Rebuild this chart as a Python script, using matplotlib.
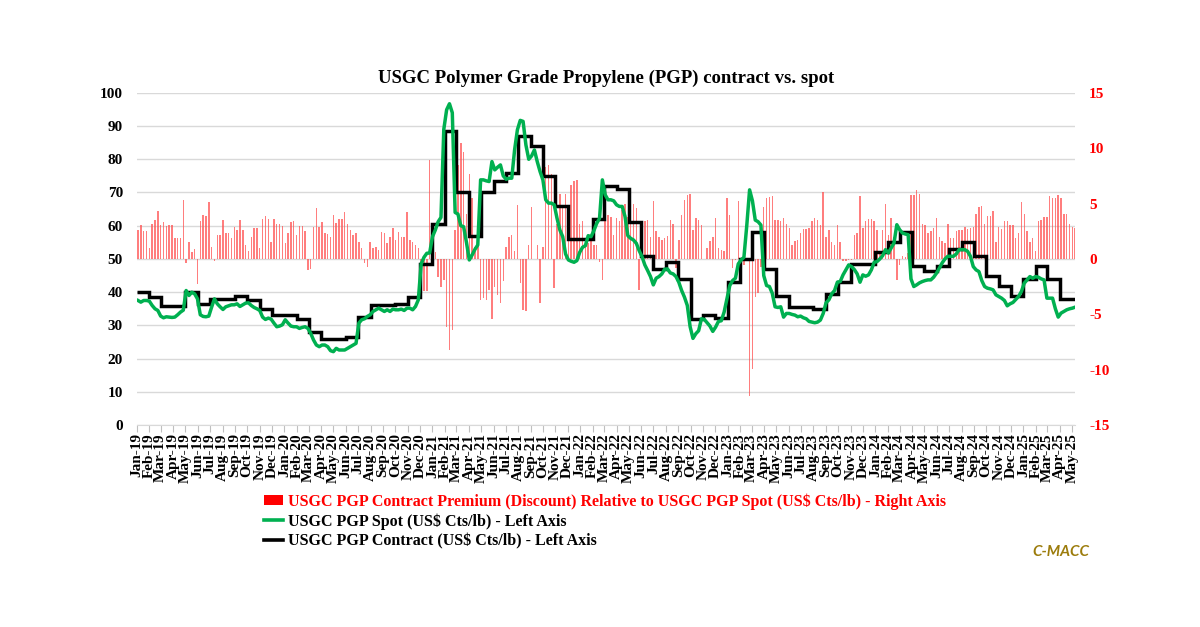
import pandas as pd
import matplotlib
matplotlib.use("Agg")
import matplotlib.pyplot as plt
import matplotlib.dates as mdates
from matplotlib.patches import Patch
from matplotlib.lines import Line2D

plt.rcParams['font.family'] = ['Liberation Serif', 'DejaVu Serif']
plt.rcParams['font.weight'] = 'bold'
plt.rcParams['axes.unicode_minus'] = False

TITLE = "USGC Polymer Grade Propylene (PGP) contract vs. spot"
LABEL_PREMIUM = "USGC PGP Contract Premium (Discount) Relative to USGC PGP Spot (US$ Cts/lb) - Right Axis"
LABEL_SPOT = "USGC PGP Spot (US$ Cts/lb) - Left Axis"
LABEL_CONTRACT = "USGC PGP Contract (US$ Cts/lb) - Left Axis"

# monthly contract price Jan-19 .. May-25 (US$ Cts/lb)
contract = [
    40, 38.5, 35.7, 35.7, 40, 36.5, 38, 38, 39, 37.5, 35, 33,          # 2019
    33, 32, 28, 26, 26, 26.5, 32.5, 36, 36, 36.5, 38.5, 48.5,          # 2020
    60.5, 88.5, 70, 57, 70, 73.5, 76, 87, 84, 75, 66, 56,              # 2021
    56, 62, 72, 71, 61, 51, 47, 49, 44, 32, 33, 32.3,                  # 2022
    43, 50, 58, 47, 39, 35.5, 35.5, 35, 39.5, 43, 48.5, 48.5,          # 2023
    52, 55, 58, 48, 46.5, 48, 53, 55, 51, 45, 42, 39,                  # 2024
    44, 48, 44, 38, 38,                                                # 2025
]

# weekly spot price (Fridays), one row per month
spot = [
    37.5, 37.0, 37.5, 37.5,
    37.3, 36.0, 35.0, 34.5,
    32.8, 32.3, 32.6, 32.5, 32.4,
    32.5, 33.2, 34.0, 34.6,
    40.5, 39.0, 40.0, 39.5, 38.0,
    33.2, 32.7, 32.6, 32.8,
    35.5, 38.0, 36.5, 35.6,
    34.8, 35.6, 35.9, 36.2, 36.2,
    36.5, 35.7, 36.2, 36.7,
    36.8, 36.0, 35.4, 35.0,
    34.5, 32.5, 31.8, 32.2, 31.9,
    30.7, 29.6, 29.8, 30.2,
    # 2020
    31.7, 30.7, 29.8, 29.6, 29.6,
    29.1, 29.4, 29.6, 29.1,
    27.6, 25.6, 24.1, 23.6,
    24.1, 24.1, 23.6, 22.4,
    22.1, 23.1, 22.6, 22.6, 22.6,
    23.1, 23.6, 24.1, 24.6,
    30.7, 31.7, 32.0, 32.7, 33.2,
    34.2, 34.7, 35.2, 34.7,
    34.2, 34.7, 34.2, 34.9,
    34.7, 34.7, 34.9, 34.5, 35.2,
    35.2, 34.7, 35.7, 37.7,
    48.5, 50.5, 51.7, 51.8,
    # 2021
    56.7, 58.7, 61.2, 62.5, 89.0,
    94.9, 96.7, 94.0, 64.0,
    63.5, 60.0, 59.7, 55.0,
    49.7, 51.2, 52.9, 54.2, 73.8,
    73.8, 73.5, 73.3, 79.3,
    76.8, 77.6, 78.3, 75.0,
    74.0, 74.3, 74.3, 82.8, 88.9,
    91.7, 91.4, 84.3, 80.0,
    81.0, 82.8, 79.3, 76.3,
    73.8, 67.8, 66.8, 66.8, 66.3,
    62.2, 58.7, 56.7, 51.5,
    49.7, 49.3, 49.0, 49.5, 52.0,
    # 2022
    53.5, 54.0, 57.0, 56.7,
    58.5, 60.7, 62.2, 73.8,
    69.3, 67.8, 67.8, 67.5,
    66.3, 65.8, 65.8, 62.8, 57.0,
    56.2, 55.7, 54.7, 52.5,
    50.7, 48.2, 46.5, 44.7,
    42.2, 44.2, 44.7, 45.5, 46.9,
    47.0, 45.8, 45.5, 44.7,
    43.0, 40.5, 38.5, 36.0, 29.6,
    26.1, 27.5, 28.4, 32.0,
    31.8, 30.8, 29.8, 28.2,
    29.5, 31.2, 31.4, 34.0, 38.0,
    # 2023
    42.0, 43.5, 44.2, 48.5,
    49.7, 50.5, 60.0, 70.8,
    67.5, 61.7, 61.2, 60.2, 45.0,
    42.0, 41.7, 39.7, 35.6,
    35.4, 35.6, 32.5, 33.6,
    33.6, 33.3, 33.1, 32.6, 32.8,
    32.3, 32.0, 31.2, 31.0,
    30.8, 31.0, 31.6, 33.6,
    36.8, 37.7, 39.5, 40.5, 43.0,
    43.2, 45.2, 46.7, 48.2,
    47.7, 46.8, 45.5, 43.0,
    45.2, 44.8, 45.2, 46.7, 49.0,
    # 2024
    49.2, 50.0, 51.0, 52.8,
    51.8, 53.3, 54.8, 60.3,
    58.8, 57.8, 57.5, 57.3, 44.0,
    41.7, 42.2, 42.8, 43.2,
    43.5, 43.7, 43.7, 44.5, 45.7,
    47.2, 48.8, 50.0, 50.8,
    50.8, 50.8, 51.5, 52.8,
    52.8, 52.8, 52.3, 50.8, 47.7,
    46.7, 46.2, 43.5, 41.7,
    41.2, 41.0, 40.7, 39.2,
    38.7, 38.2, 37.5, 35.9, 36.5,
    36.9, 37.8, 38.7, 40.2,
    # 2025
    42.7, 43.7, 44.7, 44.2, 44.7,
    44.5, 44.0, 43.7, 38.2,
    38.2, 38.2, 35.0, 32.5,
    33.7, 34.2, 34.7, 35.0,
    35.2, 35.5,
]

# weekly contract premium / (discount) vs spot, right axis
premium = [
    2.65, 3.1, 2.5, 2.55,
    1.0, 3.2, 3.55, 4.3,
    3.05, 3.35, 2.95, 3.1, 3.1,
    1.9, 1.9, 1.9, 5.35,
    -0.35, 1.55, 0.6, 0.9, -2.3,
    3.4, 4.0, 3.9, 5.15,
    1.1, -0.2, 2.15, 2.15,
    3.55, 2.35, 2.35, 1.9, 2.85,
    2.65, 3.55, 2.65, 1.3,
    0.7, 1.95, 2.75, 2.8,
    1.0, 3.65, 3.85, 3.65, 1.55,
    3.6, 3.2, 3.15, 2.95,
    # 2020
    1.4, 2.35, 3.35, 3.4, 2.15,
    2.95, 2.95, 2.55, -1.0,
    -0.9, 2.85, 4.6, 2.85,
    3.35, 2.35, 2.25, 1.95,
    4.0, 3.25, 3.65, 3.65, 4.2,
    3.2, 2.6, 2.15, 2.35,
    1.5, 0.95, -0.4, -0.7, 1.5,
    0.95, 1.05, 0.8, 2.45,
    2.3, 1.45, 1.95, 2.8,
    1.75, 2.45, 2.0, 1.95, 4.25,
    1.75, 1.55, 1.3, 1.0,
    -2.1, -2.9, -2.9, 8.9,
    # 2021
    0.5, 0.66, -1.6, -2.5, -1.9,
    -6.1, -8.2, -6.4, 2.6,
    8.5, 10.5, 9.7, 4.1,
    7.7, 5.5, 1.1, 2.0, -3.7,
    -3.55, -3.7, -2.8, -5.4,
    -2.5, -3.25, -4.0, -2.0,
    1.1, 2.0, 2.2, 0.7, 4.9,
    -2.2, -4.6, -4.7, 1.3,
    4.7, 0.0, 1.3, -4.0,
    1.1, 8.3, 8.5, 7.7, -2.65,
    3.2, 5.9, 4.9, 5.9,
    2.8, 6.7, 7.05, 7.1, 3.2,
    # 2022
    3.4, 1.7, 1.4, 2.0,
    1.3, 1.3, -0.25, -1.9,
    3.8, 4.0, 3.8, 2.2,
    3.7, 3.4, 4.4, 5.0, 3.8,
    3.5, 5.0, 4.6, -2.8,
    1.6, 3.4, 3.5, 2.0,
    5.2, 2.5, 2.0, 1.7, 1.9,
    2.1, 3.5, 3.2, -0.85,
    1.7, 4.0, 5.3, 5.8, 5.9,
    2.6, 3.7, 3.5, 3.1,
    0.0, 1.0, 1.6, 2.0,
    3.7, 1.0, 0.8, 0.7, 5.5,
    # 2023
    4.0, -0.85, -0.1, 5.2,
    -0.25, -0.55, -0.1, -12.4,
    -9.9, -3.4, -3.1, -0.7, 4.7,
    5.5, 5.6, 5.7, 3.5,
    3.5, 3.4, 3.7, 3.2,
    2.8, 1.3, 1.6, 1.75, 2.35,
    2.7, 2.7, 2.75, 3.45,
    3.7, 3.5, 3.1, 6.0,
    1.95, 2.6, 1.55, 1.25, 3.05,
    1.55, -0.2, -0.2, -0.05,
    -0.1, 2.2, 2.3, 5.7,
    2.8, 3.4, 3.6, 3.6, 3.4,
    # 2024
    2.6, 0.5, 2.6, 5.0,
    2.2, 3.7, 2.0, -1.9,
    -0.55, 0.3, 0.2, 0.5, 5.8,
    5.8, 6.2, 5.9, 3.2,
    3.1, 2.3, 2.5, 2.8, 3.7,
    2.0, 1.6, 1.4, 3.2,
    1.9, 1.9, 2.5, 2.6,
    2.6, 2.9, 2.7, 2.8, 2.9,
    4.1, 4.7, 4.8, 3.2,
    3.9, 3.9, 4.3, 1.5,
    2.9, 2.7, 3.4, 3.4, 3.1,
    3.1, 1.9, 2.3, 5.1,
    # 2025
    4.1, 2.5, 1.5, 1.9, 0.7,
    3.4, 3.5, 3.8, 3.8,
    5.7, 5.5, 5.5, 5.8,
    5.5, 4.1, 4.1, 3.2,
    2.9, 2.8,
]

months = mdates.date2num(pd.date_range("2019-01-01", periods=len(contract) + 1, freq="MS"))
weeks = mdates.date2num(pd.date_range("2019-01-04", periods=len(spot), freq="W-FRI"))

fig = plt.figure(figsize=(12, 6.27), dpi=100)
ax = fig.add_axes([0.114, 0.322, 0.782, 0.530])
ax2 = ax.twinx()   # bars, right scale
ax3 = ax.twinx()   # lines, left scale

ax2.bar(weeks, premium, width=3.6, color="#ff4d4d", alpha=0.72, linewidth=0)
ax3.plot(weeks, spot, color="#00b050", lw=2.5)
ax3.stairs(contract, months, color="black", lw=2.5, baseline=None)

for a in (ax, ax2, ax3):
    for s in ("top", "left", "right", "bottom"):
        a.spines[s].set_visible(False)
ax.spines["bottom"].set_visible(True)
ax.spines["bottom"].set_color("#d9d9d9")

ax.set_xlim(months[0], weeks[-1])
ax.set_ylim(0, 100)
ax.set_yticks(range(0, 101, 10))
ax.yaxis.grid(True, color="#d9d9d9", lw=1)
ax.tick_params(axis="y", length=0, pad=10, labelsize=11)

ax2.set_ylim(-15, 15)
ax2.set_yticks(range(-15, 16, 5))
ax2.tick_params(axis="y", length=0, pad=10, labelsize=11, labelcolor="red")

ax3.set_ylim(0, 100)
ax3.set_yticks([])

ax.xaxis.set_major_locator(mdates.MonthLocator())
ax.xaxis.set_major_formatter(mdates.DateFormatter("%b-%y"))
ax.tick_params(axis="x", length=5, color="#bfbfbf", labelsize=11, pad=1, labelrotation=90)

fig.text(0.505, 0.875, TITLE, ha="center", va="center", fontsize=13.5, fontweight="bold")

handles = [
    Patch(facecolor="red", edgecolor="none"),
    Line2D([], [], color="#00b050", lw=2.6),
    Line2D([], [], color="black", lw=2.6),
]
leg = fig.legend(handles, [LABEL_PREMIUM, LABEL_SPOT, LABEL_CONTRACT],
                 loc="upper left", bbox_to_anchor=(0.213, 0.226), frameon=False,
                 fontsize=11.5, handlelength=1.2, handleheight=0.6,
                 handletextpad=0.3, labelspacing=0.22, borderpad=0)
leg.get_texts()[0].set_color("red")

fig.text(0.908, 0.12, "C-MACC", ha="right", va="center", fontsize=11,
         fontstyle="italic", fontweight="bold", color="#9c7c0c", family="Lato")

fig.savefig("out.png", dpi=100)
